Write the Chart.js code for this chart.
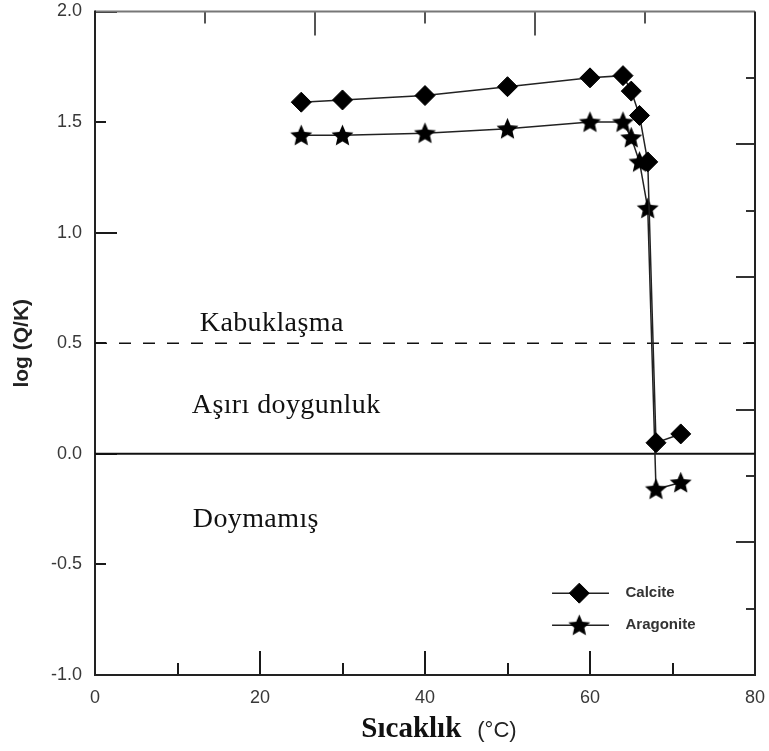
<!DOCTYPE html>
<html><head><meta charset="utf-8">
<script src="https://cdn.jsdelivr.net/npm/chart.js@4.4.1/dist/chart.umd.min.js"></script>
<style>html,body{margin:0;padding:0;background:#fff}canvas{display:block}</style>
</head><body>
<canvas id="c" width="769" height="751"></canvas>
<script>
// ---- data ----
const temperatures = [25, 30, 40, 50, 60, 64, 65, 66, 67, 68, 71];
const calcite = [1.59, 1.60, 1.62, 1.66, 1.70, 1.71, 1.64, 1.53, 1.32, 0.05, 0.09];
const aragonite = [1.44, 1.44, 1.45, 1.47, 1.50, 1.50, 1.43, 1.32, 1.11, -0.16, -0.13];
const seriesNames = ['Calcite', 'Aragonite'];
const xRange = [0, 80];
const yRange = [-1, 2];
const xLabeledTicks = [0, 20, 40, 60, 80];
const saturationLevel = 0.0;   // solid line
const scalingLevel = 0.5;      // dashed line
const zoneLabels = ['Kabuklaşma', 'Aşırı doygunluk', 'Doymamış'];
const xTitleMain = 'Sıcaklık';
const xTitleUnit = '(°C)';
const yTitle = 'log (Q/K)';

function makeStar(R, r) {
  const s = Math.ceil(R * 2 + 2);
  const c = document.createElement('canvas'); c.width = s; c.height = s;
  const g = c.getContext('2d');
  g.beginPath();
  for (let i = 0; i < 10; i++) {
    const rad = (i % 2) ? r : R;
    const a = -Math.PI / 2 + i * Math.PI / 5;
    g.lineTo(s / 2 + rad * Math.cos(a), s / 2 + rad * Math.sin(a) + 0.8);
  }
  g.closePath(); g.fillStyle = '#000'; g.fill();
  return c;
}
const starImg = makeStar(11.5, 5.3);

const pts = (ys) => temperatures.map((t, i) => ({x: t, y: ys[i]}));
const hline = (v) => xRange.map(x => ({x, y: v}));

const frame = {
  id: 'frame',
  beforeDatasetsDraw(chart) {
    const {ctx, chartArea: a, scales: {x, y}} = chart;
    ctx.save();
    ctx.strokeStyle = '#1a1a1a';
    ctx.lineWidth = 2;
    // left ticks
    for (let v = yRange[0]; v <= yRange[1] + 1e-9; v += 0.5) {
      const py = Math.round(y.getPixelForValue(v));
      const len = Math.abs(v - Math.round(v)) < 1e-9 ? 22 : 11;
      ctx.beginPath(); ctx.moveTo(a.left, py); ctx.lineTo(a.left + len, py); ctx.stroke();
    }
    // bottom ticks
    for (let v = xRange[0]; v <= xRange[1]; v += 10) {
      const px = Math.round(x.getPixelForValue(v));
      const len = v % 20 === 0 ? 24 : 12;
      ctx.beginPath(); ctx.moveTo(px, a.bottom); ctx.lineTo(px, a.bottom - len); ctx.stroke();
    }
    // top ticks (6 divisions)
    ctx.strokeStyle = '#555';
    for (let i = 1; i < 6; i++) {
      const px = Math.round(a.left + i * (a.right - a.left) / 6);
      const len = i % 2 === 0 ? 24 : 12;
      ctx.beginPath(); ctx.moveTo(px, a.top); ctx.lineTo(px, a.top + len); ctx.stroke();
    }
    // right ticks (10 divisions)
    ctx.strokeStyle = '#333';
    for (let i = 1; i < 10; i++) {
      const py = Math.round(a.top + i * (a.bottom - a.top) / 10);
      const len = i % 2 === 0 ? 19 : 9;
      ctx.beginPath(); ctx.moveTo(a.right, py); ctx.lineTo(a.right - len, py); ctx.stroke();
    }
    // borders
    ctx.lineWidth = 2;
    ctx.strokeStyle = '#777';
    ctx.beginPath(); ctx.moveTo(a.left, a.top); ctx.lineTo(a.right, a.top); ctx.stroke();
    ctx.strokeStyle = '#222';
    ctx.beginPath(); ctx.moveTo(a.right, a.top); ctx.lineTo(a.right, a.bottom); ctx.stroke();
    ctx.beginPath(); ctx.moveTo(a.left, a.top - 1); ctx.lineTo(a.left, a.bottom); ctx.lineTo(a.right + 1, a.bottom); ctx.stroke();

    // zone labels (serif)
    ctx.fillStyle = '#111';
    ctx.font = '28px "Liberation Serif", "DejaVu Serif", serif';
    ctx.letterSpacing = '0.4px';
    ctx.textAlign = 'left'; ctx.textBaseline = 'alphabetic';
    const zx = x.getPixelForValue(12.7);
    ctx.fillText(zoneLabels[0], zx, y.getPixelForValue(0.554));
    ctx.fillText(zoneLabels[1], zx - 8, y.getPixelForValue(0.183));
    ctx.fillText(zoneLabels[2], zx - 7, y.getPixelForValue(-0.332));
    ctx.letterSpacing = '0px';

    // y title
    ctx.save();
    ctx.translate(22, (a.top + a.bottom) / 2);
    ctx.rotate(-Math.PI / 2);
    ctx.font = 'bold 21px "Liberation Sans", Arial, sans-serif';
    ctx.textAlign = 'center'; ctx.textBaseline = 'middle';
    ctx.fillStyle = '#222';
    ctx.fillText(yTitle, 0, 0);
    ctx.restore();

    // x title
    ctx.font = 'bold 29px "Liberation Serif", serif';
    const w1 = ctx.measureText(xTitleMain).width;
    ctx.font = '22px "Liberation Sans", Arial, sans-serif';
    const w2 = ctx.measureText(xTitleUnit).width;
    const gap = 16;
    const cx = (a.left + a.right) / 2 + 14;
    let sx = cx - (w1 + gap + w2) / 2;
    ctx.fillStyle = '#111';
    ctx.font = 'bold 29px "Liberation Serif", serif';
    ctx.fillText(xTitleMain, sx, 737);
    ctx.font = '22px "Liberation Sans", Arial, sans-serif';
    ctx.fillStyle = '#222';
    ctx.fillText(xTitleUnit, sx + w1 + gap, 737);
    ctx.restore();
  },
  afterDatasetsDraw(chart) {
    const {ctx, scales: {x, y}} = chart;
    ctx.save();
    const x0 = x.getPixelForValue(55.4), x1 = x.getPixelForValue(62.3), xm = x.getPixelForValue(58.7);
    const rows = [-0.63, -0.775];
    [0, 1].forEach(i => {
      const ds = chart.data.datasets[i];
      const py = y.getPixelForValue(rows[i]);
      ctx.strokeStyle = '#222'; ctx.lineWidth = 1.5;
      ctx.beginPath(); ctx.moveTo(x0, py); ctx.lineTo(x1, py); ctx.stroke();
      ctx.fillStyle = '#000'; ctx.strokeStyle = '#000'; ctx.lineWidth = 1;
      Chart.helpers.drawPoint(ctx, {pointStyle: ds.pointStyle, radius: ds.pointRadius, rotation: 0, borderWidth: 1}, xm, py);
      ctx.font = 'bold 15px "Liberation Sans", Arial, sans-serif';
      ctx.fillStyle = '#333'; ctx.textAlign = 'left'; ctx.textBaseline = 'middle';
      ctx.fillText(ds.label, x.getPixelForValue(64.3), py);
    });
    ctx.restore();
  }
};

const zeroPad = (s) => { s.paddingLeft = 0; s.paddingRight = 0; s.paddingTop = 0; s.paddingBottom = 0; };

new Chart(document.getElementById('c'), {
  type: 'scatter',
  data: {
    datasets: [
      {label: seriesNames[0], data: pts(calcite), showLine: true, borderColor: '#222', borderWidth: 1.5,
       pointStyle: 'rectRot', pointRadius: 10, pointBackgroundColor: '#000', pointBorderColor: '#000', pointBorderWidth: 1},
      {label: seriesNames[1], data: pts(aragonite), showLine: true, borderColor: '#222', borderWidth: 1.5,
       pointStyle: starImg, pointRadius: 10, pointBackgroundColor: '#000', pointBorderColor: '#000'},
      {label: 'sat', data: hline(saturationLevel), showLine: true, borderColor: '#111', borderWidth: 2, pointRadius: 0},
      {label: 'scale', data: hline(scalingLevel), showLine: true, borderColor: '#111', borderWidth: 1.5, borderDash: [12, 12], pointRadius: 0}
    ]
  },
  options: {
    responsive: false,
    animation: false,
    layout: {padding: {left: 0, top: 11, right: 14, bottom: 0}},
    plugins: {legend: {display: false}, tooltip: {enabled: false}},
    scales: {
      x: {
        type: 'linear', min: xRange[0], max: xRange[1],
        grid: {display: false, drawTicks: false}, border: {display: false},
        ticks: {stepSize: 10, padding: 12, color: '#383838', font: {family: '"Liberation Sans", Arial, sans-serif', size: 18},
          maxRotation: 0, autoSkip: false,
          callback: (v) => xLabeledTicks.includes(v) ? String(v) : ''},
        afterFit: (s) => { s.height = 76; zeroPad(s); }
      },
      y: {
        type: 'linear', min: yRange[0], max: yRange[1],
        grid: {display: false, drawTicks: false}, border: {display: false},
        ticks: {stepSize: 0.5, padding: 13, color: '#383838', font: {family: '"Liberation Sans", Arial, sans-serif', size: 18},
          callback: (v) => Number(v).toFixed(1)},
        afterFit: (s) => { s.width = 95; zeroPad(s); }
      }
    }
  },
  plugins: [frame]
});
</script>
</body></html>
